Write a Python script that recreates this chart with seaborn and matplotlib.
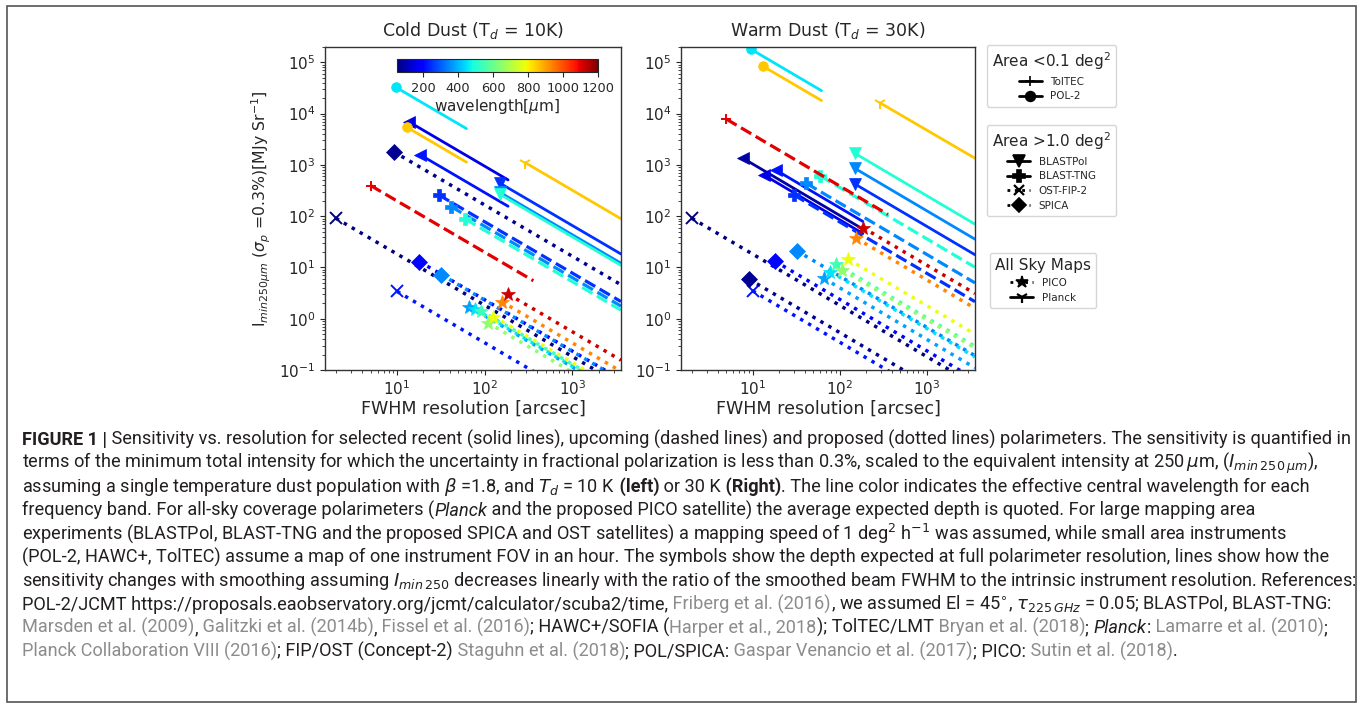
import numpy as np
import matplotlib
matplotlib.use("Agg")
import matplotlib as mpl
import matplotlib.pyplot as plt
import seaborn as sns
from matplotlib import font_manager
from matplotlib.lines import Line2D
from matplotlib.patches import Rectangle

sns.set_style("ticks")
plt.rcParams['font.family'] = ['DejaVu Sans']

# ---- data (FWHM in arcsec, intensity in MJy/sr) ----
X_EDGE = 3600  # right edge of the axes, long lines run off here

# POL-2 (solid, circle)
pol2_wl = [450, 850]
pol2_fwhm = [9.6, 13.0]
pol2_end = 62
pol2_cold = [3.3e4, 5.4e3]
pol2_cold_end = [5100, 1130]
pol2_warm = [1.8e5, 8.5e4]
pol2_warm_end = [2.8e4, 1.8e4]

# TolTEC (dashed, plus)
toltec_wl = [1100]
toltec_fwhm = [5.0]
toltec_end = 360
toltec_cold = [395]
toltec_cold_end = [5.5]
toltec_warm = [7.8e3]
toltec_warm_end = [108]

# HAWC+ (solid, left triangle, not in legend)
hawc_wl = [89, 154, 214]
hawc_fwhm = [7.8, 13.5, 18.5]
hawc_end = 185
hawc_cold = [np.nan, 7.0e3, 1.56e3]
hawc_cold_end = [np.nan, 510, 156]
hawc_warm = [1340, 634, 794]
hawc_warm_end = [56, 46, 79]

# BLASTPol (solid, down triangle)
blastpol_wl = [250, 350, 500]
blastpol_fwhm = [150, 150, 150]
blastpol_cold = [438, 290, 265]
blastpol_cold_end = [18.3, 12.1, 11.0]
blastpol_warm = [424, 855, 1680]
blastpol_warm_end = [17.7, 35.6, 70]

# BLAST-TNG (dashed, filled plus)
tng_wl = [250, 350, 500]
tng_fwhm = [30, 41.5, 60]
tng_cold = [259, 153, 88]
tng_cold_end = [2.16, 1.76, 1.47]
tng_warm = [258, 437, 607]
tng_warm_end = [2.15, 5.0, 10.1]

# OST-FIP-2 (dotted, x)
ost_wl = [50, 220]
ost_fwhm = [2.0, 10.0]
ost_cold = [91, 3.4]
ost_cold_end = [0.051, 0.0094]
ost_warm = [91, 3.5]
ost_warm_end = [0.051, 0.0097]

# SPICA (dotted, diamond)
spica_wl = [70, 200, 350]
spica_fwhm = [9.1, 18, 32]
spica_cold = [1815, 13, 7.2]
spica_cold_end = [4.6, 0.065, 0.064]
spica_warm = [5.9, 13.3, 21.2]
spica_warm_end = [0.015, 0.066, 0.19]

# PICO (dotted, star)
pico_wl = [375, 450, 540, 649, 779, 934, 1123]
pico_fwhm = [66, 78, 90, 108, 126, 156, 186]
pico_cold = [1.73, 1.53, 1.44, 0.84, 1.1, 2.16, 3.0]
pico_cold_end = [0.032, 0.033, 0.036, 0.025, 0.039, 0.094, 0.155]
pico_warm = [6.1, 8.3, 11.6, 8.9, 14.4, 36.9, 59.6]
pico_warm_end = [0.11, 0.18, 0.29, 0.27, 0.50, 1.6, 3.1]

# Planck (solid, tri marker)
planck_wl = [850]
planck_fwhm = [290]
planck_cold = [1110]
planck_cold_end = [89]
planck_warm = [1.63e4]
planck_warm_end = [1350]

instruments = [
    dict(wl=hawc_wl, fwhm=hawc_fwhm, end=hawc_end, cold=hawc_cold, cold_end=hawc_cold_end,
         warm=hawc_warm, warm_end=hawc_warm_end, marker='<', ls='-', lw=2.0, ms=9),
    dict(wl=blastpol_wl, fwhm=blastpol_fwhm, end=X_EDGE, cold=blastpol_cold, cold_end=blastpol_cold_end,
         warm=blastpol_warm, warm_end=blastpol_warm_end, marker='v', ls='-', lw=2.0, ms=9),
    dict(wl=tng_wl, fwhm=tng_fwhm, end=X_EDGE, cold=tng_cold, cold_end=tng_cold_end,
         warm=tng_warm, warm_end=tng_warm_end, marker='P', ls='--', lw=2.3, ms=9),
    dict(wl=ost_wl, fwhm=ost_fwhm, end=X_EDGE, cold=ost_cold, cold_end=ost_cold_end,
         warm=ost_warm, warm_end=ost_warm_end, marker='x', ls=':', lw=2.5, ms=8),
    dict(wl=spica_wl, fwhm=spica_fwhm, end=X_EDGE, cold=spica_cold, cold_end=spica_cold_end,
         warm=spica_warm, warm_end=spica_warm_end, marker='D', ls=':', lw=2.5, ms=8),
    dict(wl=pico_wl, fwhm=pico_fwhm, end=X_EDGE, cold=pico_cold, cold_end=pico_cold_end,
         warm=pico_warm, warm_end=pico_warm_end, marker='*', ls=':', lw=2.5, ms=10),
    dict(wl=toltec_wl, fwhm=toltec_fwhm, end=toltec_end, cold=toltec_cold, cold_end=toltec_cold_end,
         warm=toltec_warm, warm_end=toltec_warm_end, marker='+', ls='--', lw=2.3, ms=7),
    dict(wl=pol2_wl, fwhm=pol2_fwhm, end=pol2_end, cold=pol2_cold, cold_end=pol2_cold_end,
         warm=pol2_warm, warm_end=pol2_warm_end, marker='o', ls='-', lw=2.0, ms=7),
    dict(wl=planck_wl, fwhm=planck_fwhm, end=X_EDGE, cold=planck_cold, cold_end=planck_cold_end,
         warm=planck_warm, warm_end=planck_warm_end, marker='1', ls='-', lw=2.0, ms=9),
]

cmap = plt.get_cmap('jet')
norm = mpl.colors.Normalize(vmin=50, vmax=1200)

fig = plt.figure(figsize=(13.63, 7.10), dpi=100)
ax_l = fig.add_axes([0.2384, 0.4789, 0.2172, 0.455])
ax_r = fig.add_axes([0.4996, 0.4789, 0.2157, 0.455])


def draw_panel(ax, key, title):
    ax.set_xscale('log')
    ax.set_yscale('log')
    for inst in instruments:
        for wl, fw, v0, v1 in zip(inst['wl'], inst['fwhm'], inst[key], inst[key + '_end']):
            if np.isnan(v0):
                continue
            c = cmap(norm(wl))
            unfilled = inst['marker'] in ('x', '+', '1')
            sns.lineplot(x=[fw, inst['end']], y=[v0, v1], ax=ax, color=c,
                         linestyle=inst['ls'], lw=inst['lw'], marker=inst['marker'],
                         markersize=inst['ms'], markevery=[0], markeredgecolor=c,
                         markerfacecolor=c, markeredgewidth=1.4 if unfilled else 0.5,
                         errorbar=None)
    ax.set_xlim(1.5, X_EDGE)
    ax.set_ylim(0.1, 2e5)
    ax.set_title(title, fontsize=12.5, pad=8)
    ax.set_xlabel('FWHM resolution [arcsec]', fontsize=12.6, labelpad=1)
    ax.set_ylabel('')
    ax.tick_params(which='major', length=3.5, width=0.8, labelsize=11)
    ax.tick_params(which='minor', length=2, width=0.6)
    for sp in ax.spines.values():
        sp.set_linewidth(1.0)
        sp.set_color('#333333')


draw_panel(ax_l, 'cold', 'Cold Dust (T$_d$ = 10K)')
draw_panel(ax_r, 'warm', 'Warm Dust (T$_d$ = 30K)')
ax_l.set_ylabel('I$_{min250\\mu m}$ ($\\sigma_p$ =0.3%)[MJy Sr$^{-1}$]', fontsize=11.3)

# colorbar inside the left panel
cax = fig.add_axes([0.2913, 0.8986, 0.1474, 0.0183])
sm = mpl.cm.ScalarMappable(norm=norm, cmap=cmap)
cb = fig.colorbar(sm, cax=cax, orientation='horizontal', ticks=[200, 400, 600, 800, 1000, 1200])
cb.set_label('wavelength[$\\mu$m]', fontsize=11, labelpad=2)
cb.ax.tick_params(labelsize=9.3, length=3.5, width=0.8)
cb.outline.set_linewidth(0.8)

# legends
def handle(marker, ls, label, ms=8, mew=1.2):
    return Line2D([], [], color='k', marker=marker, linestyle=ls, lw=2, markersize=ms,
                  markeredgewidth=mew, label=label)

leg_kw = dict(loc='upper left', fontsize=7.5, title_fontsize=11, handlelength=2.2,
              borderpad=0.5, labelspacing=0.45, edgecolor='0.8', borderaxespad=0)
fig.legend(handles=[handle('+', '-', 'TolTEC', 7), handle('o', '-', 'POL-2', 7)],
           title='Area <0.1 deg$^2$', bbox_to_anchor=(0.7241, 0.9366), **leg_kw)
fig.legend(handles=[handle('v', '-', 'BLASTPol'), handle('P', '-', 'BLAST-TNG'),
                    handle('x', ':', 'OST-FIP-2', 7, 1.6), handle('D', ':', 'SPICA', 7)],
           title='Area >1.0 deg$^2$', bbox_to_anchor=(0.7241, 0.824), **leg_kw)
fig.legend(handles=[handle('*', ':', 'PICO', 9), handle('1', '-', 'Planck', 9, 1.6)],
           title='All Sky Maps', bbox_to_anchor=(0.7263, 0.6437), **leg_kw)

# outer frame
fig.patches.append(Rectangle((7 / 1363, 1 - 702 / 710), (1356 - 7) / 1363, (702 - 6) / 710,
                             transform=fig.transFigure, fill=False, edgecolor='#555555', lw=1.2))

# caption
names = {f.name for f in font_manager.fontManager.ttflist}
cap_font = 'Liberation Sans Narrow' if 'Liberation Sans Narrow' in names else 'Roboto'
INK = '#231f20'
GRAY = '#8c8c8c'

caption = [
    [("FIGURE 1 |", 'b'), (" Sensitivity vs. resolution for selected recent (solid lines), upcoming (dashed lines) "
                           "and proposed (dotted lines) polarimeters. The sensitivity is quantified in", 'n')],
    [("terms of the minimum total intensity for which the uncertainty in fractional polarization is less than 0.3%, "
      "scaled to the equivalent intensity at 250$\\,\\mu$m, ($I_{min\\,250\\,\\mu m}$),", 'n')],
    [("assuming a single temperature dust population with $\\beta$ =1.8, and $T_d$ = 10 K", 'n'), (" (left)", 'b'),
     (" or 30 K", 'n'), (" (Right)", 'b'),
     (". The line color indicates the effective central wavelength for each", 'n')],
    [("frequency band. For all-sky coverage polarimeters (", 'n'), ("Planck", 'i'),
     (" and the proposed PICO satellite) the average expected depth is quoted. For large mapping area", 'n')],
    [("experiments (BLASTPol, BLAST-TNG and the proposed SPICA and OST satellites) a mapping speed of "
      "1 deg$^2$ h$^{-1}$ was assumed, while small area instruments", 'n')],
    [("(POL-2, HAWC+, TolTEC) assume a map of one instrument FOV in an hour. The symbols show the depth "
      "expected at full polarimeter resolution, lines show how the", 'n')],
    [("sensitivity changes with smoothing assuming $I_{min\\,250}$ decreases linearly with the ratio of the "
      "smoothed beam FWHM to the intrinsic instrument resolution. References:", 'n')],
    [("POL-2/JCMT https://proposals.eaobservatory.org/jcmt/calculator/scuba2/time,", 'n'),
     (" Friberg et al. (2016)", 'g'),
     (", we assumed El = 45$^{\\circ}$, $\\tau_{225\\,GHz}$ = 0.05; BLASTPol, BLAST-TNG:", 'n')],
    [("Marsden et al. (2009)", 'g'), (",", 'n'), (" Galitzki et al. (2014b)", 'g'), (",", 'n'),
     (" Fissel et al. (2016)", 'g'), ("; HAWC+/SOFIA (", 'n'), ("Harper et al., 2018", 'g'),
     ("); TolTEC/LMT", 'n'), (" Bryan et al. (2018)", 'g'), ("; ", 'n'), ("Planck", 'i'), (":", 'n'),
     (" Lamarre et al. (2010)", 'g'), (";", 'n')],
    [("Planck Collaboration VIII (2016)", 'g'), ("; FIP/OST (Concept-2)", 'n'),
     (" Staguhn et al. (2018)", 'g'), ("; POL/SPICA:", 'n'), (" Gaspar Venancio et al. (2017)", 'g'),
     ("; PICO:", 'n'), (" Sutin et al. (2018)", 'g'), (".", 'n')],
]
cap_baselines = [445, 468.5, 492, 515.5, 539, 562.5, 586, 609.5, 633, 656.5]


def seg_style(kind):
    kw = dict(color=INK, family=cap_font)
    if kind == 'b':
        kw['weight'] = 'bold'
    elif kind == 'i':
        kw['style'] = 'italic'
    elif kind == 'g':
        kw['color'] = GRAY
    return kw


renderer = fig.canvas.get_renderer()
W, H = fig.bbox.width, fig.bbox.height


def line_width(segs, size):
    total = 0
    for s, kind in segs:
        t = fig.text(0, 0, s, fontsize=size, **seg_style(kind))
        total += t.get_window_extent(renderer).width
        t.remove()
    return total


cap_size = 10 * (1325 / line_width(caption[0], 10))

for segs, yb in zip(caption, cap_baselines):
    x = 22 / W
    for s, kind in segs:
        t = fig.text(x, 1 - yb / H, s, fontsize=cap_size, va='baseline', ha='left', **seg_style(kind))
        x += t.get_window_extent(renderer).width / W

fig.savefig('out.png', dpi=100)
